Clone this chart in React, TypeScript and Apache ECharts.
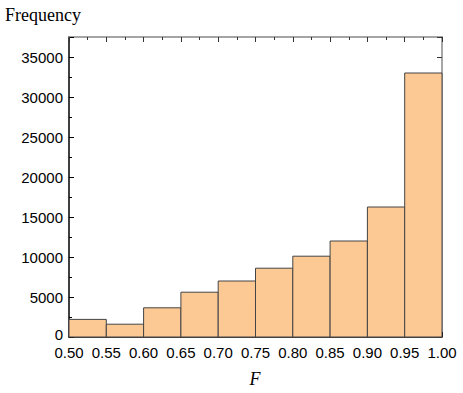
import React, { useEffect, useRef } from "react";
import * as echarts from "echarts";

const binStarts = [0.5, 0.55, 0.6, 0.65, 0.7, 0.75, 0.8, 0.85, 0.9, 0.95];
const binWidth = 0.05;
const frequencies = [2200, 1600, 3650, 5600, 7000, 8600, 10100, 12000, 16250, 33000];
const xLabelDigits = 2;
const yMax = 37500;

export default function App() {
  const ref = useRef<HTMLDivElement>(null);
  useEffect(() => {
    const chart = echarts.init(ref.current!, null, { renderer: "svg" });
    const data = binStarts.map((s, i) => [s, s + binWidth, frequencies[i]]);
    const tickFont = { fontFamily: "Liberation Sans, Arial, sans-serif", fontSize: 15, color: "#000", lineHeight: 11 };
    chart.setOption({
      animation: false,
      backgroundColor: "#fff",
      grid: { left: 69, right: 21, top: 37, bottom: 56 },
      xAxis: [
        {
          type: "value",
          min: 0.5,
          max: 1.0,
          interval: 0.05,
          position: "bottom",
          axisLine: { show: true, lineStyle: { color: "#000", width: 1.5 } },
          axisTick: { show: true, inside: true, length: 5, lineStyle: { color: "#000" } },
          minorTick: { show: true, splitNumber: 2, length: 3, lineStyle: { color: "#000" } },
          axisLabel: { ...tickFont, margin: 10, formatter: (v: number) => v.toFixed(xLabelDigits) },
          splitLine: { show: false },
        },
        {
          type: "value",
          min: 0.5,
          max: 1.0,
          interval: 0.05,
          position: "top",
          axisLine: { show: true, onZero: false, lineStyle: { color: "#888", width: 1.5 } },
          axisTick: { show: true, inside: true, length: 5, lineStyle: { color: "#333" } },
          minorTick: { show: true, splitNumber: 2, length: 3, lineStyle: { color: "#333" } },
          axisLabel: { show: false },
          splitLine: { show: false },
        },
      ],
      yAxis: [
        {
          type: "value",
          min: 0,
          max: yMax,
          interval: 5000,
          position: "left",
          axisLine: { show: true, lineStyle: { color: "#000", width: 1.5 } },
          axisTick: { show: true, inside: true, length: 5, lineStyle: { color: "#000" } },
          minorTick: { show: true, splitNumber: 2, length: 3, lineStyle: { color: "#000" } },
          axisLabel: {
            ...tickFont,
            margin: 6,
            formatter: (v: number) => (v >= yMax ? "" : v === 0 ? "{z|0}" : String(v)),
            rich: { z: { fontFamily: "Liberation Sans, Arial, sans-serif", fontSize: 15, lineHeight: 11, padding: [0, 0, 5, 0] } },
          },
          splitLine: { show: false },
        },
        {
          type: "value",
          min: 0,
          max: yMax,
          interval: 5000,
          position: "right",
          axisLine: { show: true, onZero: false, lineStyle: { color: "#888", width: 1.5 } },
          axisTick: { show: true, inside: true, length: 5, lineStyle: { color: "#333" } },
          minorTick: { show: true, splitNumber: 2, length: 3, lineStyle: { color: "#333" } },
          axisLabel: { show: false },
          splitLine: { show: false },
        },
      ],
      graphic: [
        {
          type: "text",
          left: 5,
          top: 6,
          style: { text: "Frequency", fontFamily: "Liberation Serif, Times New Roman, serif", fontSize: 18, fill: "#000" },
        },
        {
          type: "text",
          x: 255,
          y: 379,
          style: {
            text: "F",
            fontFamily: "Liberation Serif, Times New Roman, serif",
            fontStyle: "italic",
            fontSize: 18,
            fill: "#000",
            align: "center",
            verticalAlign: "middle",
          },
        },
      ],
      series: [
        {
          type: "custom",
          xAxisIndex: 0,
          yAxisIndex: 0,
          data,
          encode: { x: [0, 1], y: 2 },
          z: 1,
          renderItem: (params: any, api: any) => {
            const p0 = api.coord([api.value(0), api.value(2)]);
            const p1 = api.coord([api.value(1), 0]);
            return {
              type: "rect",
              shape: { x: p0[0], y: p0[1], width: p1[0] - p0[0], height: p1[1] - p0[1] },
              style: { fill: "#FCC995", stroke: "#444", lineWidth: 1 },
            };
          },
        },
      ],
    });
    return () => chart.dispose();
  }, []);
  return <div ref={ref} style={{ width: 463, height: 393, position: "absolute", left: 0, top: 0 }} />;
}
